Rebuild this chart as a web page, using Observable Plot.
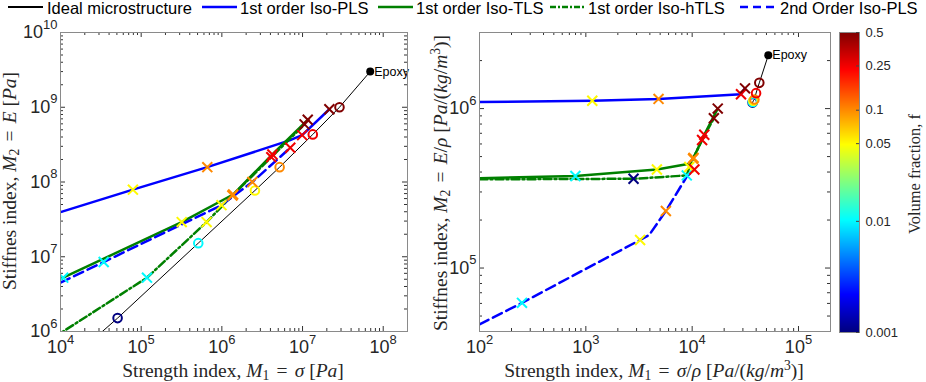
<!DOCTYPE html>
<html>
<head>
<meta charset="utf-8">
<script src="https://cdn.jsdelivr.net/npm/d3@7"></script>
<script src="https://cdn.jsdelivr.net/npm/@observablehq/plot@0.6"></script>
<style>
  html, body { margin: 0; padding: 0; background: #fff; }
  #chart { position: relative; width: 926px; height: 382px; overflow: hidden; background: #fff; }
  .slot { position: absolute; top: 0; }
  .leg-line { position: absolute; top: 0; }
  .leg-text { position: absolute; top: -1px; font-family: "Liberation Sans", Arial, sans-serif; font-size: 16.5px; line-height: 18px; color: #000; white-space: nowrap; }
  .ax-label { position: absolute; font-family: "Liberation Serif", "Times New Roman", serif; font-size: 19.5px; line-height: 20px; color: #262626; white-space: nowrap; transform: translate(-50%, -50%); }
  .ax-label.rot { transform: translate(-50%, -50%) rotate(-90deg); }
  .ax-label sub { font-size: 0.7em; vertical-align: -0.25em; line-height: 0; }
  .ax-label sup { font-size: 0.7em; vertical-align: 0.5em; line-height: 0; }
  .ax-label .eq { margin: 0 0.12em; }
  .cb-title { font-size: 16.5px; }
</style>
</head>
<body>
<div id="chart"></div>
<script>
// ---------------- data ----------------
const SERIES_NAMES = ["Ideal microstructure", "1st order Iso-PLS", "1st order Iso-TLS", "1st order Iso-hTLS", "2nd Order Iso-PLS"];
const VOLUME_FRACTION_TICKS = [0.001, 0.01, 0.05, 0.1, 0.25, 0.5];
const COLORBAR_TITLE = "Volume fraction, f";
const EPOXY_LABEL = "Epoxy";

// Left panel: M1 = sigma [Pa], M2 = E [Pa]   (f = null: line vertex without marker, f = 1: Epoxy)
const L_IDEAL_X = [3.3e4, 5.1e4, 5.1e5, 2.57e6, 5.2e6, 1.34e7, 2.87e7, 6.9e7];
const L_IDEAL_Y = [1.0e6, 1.51e6, 1.52e7, 7.7e7, 1.58e8, 4.33e8, 1.0e9, 3.0e9];
const L_IDEAL_F = [null, 0.001, 0.01, 0.05, 0.1, 0.25, 0.5, 1];
const L_PLS1_X = [1e4, 7.9e4, 6.6e5, 6.9e6, 9.9e6, 2.15e7];
const L_PLS1_Y = [3.96e7, 7.9e7, 1.58e8, 3.6e8, 4.24e8, 9.4e8];
const L_PLS1_F = [null, 0.05, 0.1, null, 0.25, 0.5];
const L_TLS1_X = [1e4, 1.08e4, 3.18e5, 1.38e6, 4.23e6, 1.16e7];
const L_TLS1_Y = [5.05e6, 5.25e6, 2.91e7, 6.8e7, 2.34e8, 6.8e8];
const L_TLS1_F = [null, 0.01, 0.05, 0.1, 0.25, 0.5];
const L_HTLS1_X = [3.73e3, 1.18e5, 6.47e5, 1.35e6, 4.1e6, 1.06e7];
const L_HTLS1_Y = [4.8e5, 5.25e6, 2.91e7, 6.6e7, 2.15e8, 5.9e8];
const L_HTLS1_F = [0.001, 0.01, 0.05, 0.1, 0.25, 0.5];
const L_PLS2_X = [1e4, 3.43e4, 9.9e5, 2.39e6, 7.05e6];
const L_PLS2_Y = [4.5e6, 8.5e6, 4.9e7, 1.0e8, 2.87e8];
const L_PLS2_F = [null, 0.01, 0.05, 0.1, 0.25];

// Right panel: M1 = sigma/rho, M2 = E/rho  [Pa/(kg/m^3)]
const R_IDEAL_X = [3.7e4, 3.72e4, 3.76e4, 3.85e4, 3.99e4, 4.28e4, 5.2e4];
const R_IDEAL_Y = [1.09e6, 1.1e6, 1.12e6, 1.14e6, 1.25e6, 1.45e6, 2.16e6];
const R_IDEAL_F = [0.001, 0.01, 0.05, 0.1, 0.25, 0.5, 1];
const R_PLS1_X = [100, 1.15e3, 4.83e3, 2.88e4, 3.14e4];
const R_PLS1_Y = [1.1e6, 1.12e6, 1.15e6, 1.23e6, 1.34e6];
const R_PLS1_F = [null, 0.05, 0.1, 0.25, 0.5];
const R_TLS1_X = [100, 798, 4.66e3, 9.4e3, 1.03e4, 1.3e4, 1.74e4];
const R_TLS1_Y = [3.66e5, 3.78e5, 4.15e5, 4.51e5, 4.91e5, 6.85e5, 1.0e6];
const R_TLS1_F = [null, 0.01, 0.05, null, 0.1, 0.25, 0.5];
const R_HTLS1_X = [100, 2.81e3, 8.9e3, 9.4e3, 1.02e4, 1.24e4, 1.6e4];
const R_HTLS1_Y = [3.6e5, 3.63e5, 3.81e5, 4.3e5, 4.85e5, 6.35e5, 8.7e5];
const R_HTLS1_F = [null, 0.001, 0.01, 0.05, 0.1, 0.25, 0.5];
const R_PLS2_X = [100, 251, 3.24e3, 3.94e3, 5.66e3, 8.93e3, 1.05e4];
const R_PLS2_Y = [4.43e4, 6.05e4, 1.5e5, 1.61e5, 2.28e5, 3.76e5, 4.15e5];
const R_PLS2_F = [null, 0.01, 0.05, null, 0.1, null, 0.25];

// ---------------- helpers ----------------
const rows = (xs, ys, fs) => xs.map((x, i) => ({x, y: ys[i], f: fs[i]}));
function jet(t) {
  const c = v => Math.max(0, Math.min(1, v));
  const r = c(1.5 - Math.abs(4 * t - 3)), g = c(1.5 - Math.abs(4 * t - 2)), b = c(1.5 - Math.abs(4 * t - 1));
  return `rgb(${Math.round(r * 255)},${Math.round(g * 255)},${Math.round(b * 255)})`;
}
const COLOR = {type: "log", domain: [0.001, 0.5], interpolate: jet};
function decades([lo, hi]) {
  const out = [];
  for (let k = Math.ceil(Math.log10(lo) - 1e-9); k <= Math.floor(Math.log10(hi) + 1e-9); k++) out.push(10 ** k);
  return out;
}
function minors([lo, hi]) {
  const out = [];
  for (let k = Math.floor(Math.log10(lo)); k <= Math.ceil(Math.log10(hi)); k++)
    for (let m = 2; m <= 9; m++) { const v = m * 10 ** k; if (v > lo * 1.0001 && v < hi / 1.0001) out.push(v); }
  return out;
}
function supify(svg) {
  d3.select(svg).selectAll("text").each(function () {
    const m = /^10\^(-?\d+)$/.exec(this.textContent);
    if (!m) return;
    this.textContent = "";
    const ns = "http://www.w3.org/2000/svg";
    const a = document.createElementNS(ns, "tspan"); a.textContent = "10";
    const b = document.createElementNS(ns, "tspan"); b.textContent = m[1];
    b.setAttribute("dy", "-0.75em"); b.setAttribute("font-size", "0.72em");
    this.appendChild(a); this.appendChild(b);
  });
}

const BLUE = "#0000ff", GREEN = "#008000", BLACK = "#000000";

function panel(o) {
  const iw = o.width - o.ml - o.mr, ih = o.height - o.mt - o.mb;
  const TICK = "#333", MAJ = 5, MIN = 3;
  const xMaj = decades(o.xDomain), yMaj = decades(o.yDomain);
  const xMin = minors(o.xDomain), yMin = minors(o.yDomain);
  const S = o.series;
  const lineDefs = [
    {d: S.ideal, stroke: BLACK, w: 1, dash: null},
    {d: S.pls1, stroke: BLUE, w: 2.5, dash: null},
    {d: S.tls1, stroke: GREEN, w: 2.5, dash: null},
    {d: S.htls1, stroke: GREEN, w: 2.5, dash: "8,3,2,3"},
    {d: S.pls2, stroke: BLUE, w: 2.5, dash: "10,5"}
  ];
  const marks = [
    Plot.tickX(xMaj, {x: d => d, insetTop: ih - MAJ, stroke: TICK}),
    Plot.tickX(xMaj, {x: d => d, insetBottom: ih - MAJ, stroke: TICK}),
    Plot.tickX(xMin, {x: d => d, insetTop: ih - MIN, stroke: TICK}),
    Plot.tickX(xMin, {x: d => d, insetBottom: ih - MIN, stroke: TICK}),
    Plot.tickY(yMaj, {y: d => d, insetRight: iw - MAJ, stroke: TICK}),
    Plot.tickY(yMaj, {y: d => d, insetLeft: iw - MAJ, stroke: TICK}),
    Plot.tickY(yMin, {y: d => d, insetRight: iw - MIN, stroke: TICK}),
    Plot.tickY(yMin, {y: d => d, insetLeft: iw - MIN, stroke: TICK}),
    ...lineDefs.map(l => Plot.line(l.d, {x: "x", y: "y", stroke: l.stroke, strokeWidth: l.w, strokeDasharray: l.dash, clip: true})),
    Plot.dot(S.ideal.filter(d => d.f != null && d.f < 1), {x: "x", y: "y", stroke: "f", symbol: "circle", fill: "none", r: 4.3, strokeWidth: 2, clip: true}),
    ...[S.pls1, S.tls1, S.htls1, S.pls2].map(d =>
      Plot.dot(d.filter(r => r.f != null), {x: "x", y: "y", stroke: "f", symbol: "times", r: 4.6, strokeWidth: 2, clip: true})),
    Plot.dot(S.ideal.filter(d => d.f === 1), {x: "x", y: "y", fill: BLACK, r: 4}),
    Plot.text(S.ideal.filter(d => d.f === 1), {x: "x", y: "y", text: () => EPOXY_LABEL, dx: 4, textAnchor: "start", fontSize: 12.5, fill: BLACK}),
    Plot.frame({stroke: "#8a8a8a"}),
    Plot.axisX({ticks: xMaj, tickFormat: d => `10^${Math.round(Math.log10(d))}`, tickSize: 0, tickPadding: 9, label: null, fontSize: 18, fill: "#262626"}),
    Plot.axisY({ticks: yMaj, tickFormat: d => `10^${Math.round(Math.log10(d))}`, tickSize: 0, tickPadding: 3, label: null, fontSize: 18, fill: "#262626"})
  ];
  const svg = Plot.plot({
    width: o.width, height: o.height,
    marginTop: o.mt, marginBottom: o.mb, marginLeft: o.ml, marginRight: o.mr,
    x: {type: "log", domain: o.xDomain, label: null},
    y: {type: "log", domain: o.yDomain, label: null},
    color: COLOR,
    style: {background: "transparent", overflow: "visible", fontFamily: "'Liberation Sans', Arial, sans-serif", color: "#262626"},
    marks
  });
  supify(svg);
  return svg;
}

const chart = document.getElementById("chart");
function place(el, left, width) {
  const d = document.createElement("div");
  d.className = "slot"; d.style.left = left + "px"; d.style.width = width + "px";
  d.appendChild(el); chart.appendChild(d);
}

place(panel({
  width: 430, height: 382, ml: 60, mr: 23, mt: 32, mb: 51,
  xDomain: [1e4, 2e8], yDomain: [1e6, 1e10],
  series: {
    ideal: rows(L_IDEAL_X, L_IDEAL_Y, L_IDEAL_F),
    pls1: rows(L_PLS1_X, L_PLS1_Y, L_PLS1_F),
    tls1: rows(L_TLS1_X, L_TLS1_Y, L_TLS1_F),
    htls1: rows(L_HTLS1_X, L_HTLS1_Y, L_HTLS1_F),
    pls2: rows(L_PLS2_X, L_PLS2_Y, L_PLS2_F)
  }
}), 0, 430);

place(panel({
  width: 405, height: 382, ml: 49, mr: 5, mt: 32, mb: 51,
  xDomain: [100, 2e5], yDomain: [4e4, 3e6],
  series: {
    ideal: rows(R_IDEAL_X, R_IDEAL_Y, R_IDEAL_F),
    pls1: rows(R_PLS1_X, R_PLS1_Y, R_PLS1_F),
    tls1: rows(R_TLS1_X, R_TLS1_Y, R_TLS1_F),
    htls1: rows(R_HTLS1_X, R_HTLS1_Y, R_HTLS1_F),
    pls2: rows(R_PLS2_X, R_PLS2_Y, R_PLS2_F)
  }
}), 430, 405);

// colorbar
const lo = Math.log10(0.001), hi = Math.log10(0.5), N = 300;
const stops = d3.range(N).map(i => ({a: 10 ** (lo + (hi - lo) * i / N), b: 10 ** (lo + (hi - lo) * (i + 1) / N)}));
const cb = Plot.plot({
  width: 91, height: 382, marginTop: 32, marginBottom: 50, marginLeft: 4, marginRight: 67,
  x: {domain: [0, 1], axis: null},
  y: {type: "log", domain: [0.001, 0.5], axis: null},
  color: COLOR,
  style: {background: "transparent", overflow: "visible", fontFamily: "'Liberation Sans', Arial, sans-serif", color: "#262626"},
  marks: [
    Plot.rect(stops, {x1: () => 0, x2: () => 1, y1: "a", y2: "b", fill: d => Math.sqrt(d.a * d.b), shapeRendering: "crispEdges"}),
    Plot.frame({stroke: "#8a8a8a"}),
    Plot.tickY(VOLUME_FRACTION_TICKS, {y: d => d, insetLeft: 17, stroke: "#444"}),
    Plot.text(VOLUME_FRACTION_TICKS, {y: d => d, text: d => String(d), frameAnchor: "right", dx: 6, textAnchor: "start", fontSize: 13, fill: "#262626"})
  ]
});
place(cb, 835, 91);

// legend
const legendItems = [
  {x1: 8, x2: 43, tx: 47, stroke: BLACK, w: 2, dash: null},
  {x1: 202, x2: 237, tx: 240, stroke: BLUE, w: 2.5, dash: null},
  {x1: 378, x2: 413, tx: 416, stroke: GREEN, w: 2.5, dash: null},
  {x1: 550, x2: 585, tx: 588, stroke: GREEN, w: 2.5, dash: "6,2,2,2"},
  {x1: 740, x2: 776, tx: 780, stroke: BLUE, w: 2.5, dash: "8,5"}
];
legendItems.forEach((it, i) => {
  const s = d3.create("svg").attr("class", "leg-line").attr("width", it.x2 - it.x1).attr("height", 14)
    .style("left", it.x1 + "px");
  s.append("line").attr("x1", 0).attr("x2", it.x2 - it.x1).attr("y1", 7).attr("y2", 7)
    .attr("stroke", it.stroke).attr("stroke-width", it.w).attr("stroke-dasharray", it.dash);
  chart.appendChild(s.node());
  const t = document.createElement("div");
  t.className = "leg-text"; t.style.left = it.tx + "px"; t.textContent = SERIES_NAMES[i];
  chart.appendChild(t);
});

// axis titles
function label(html, cx, cy, rot, extra) {
  const d = document.createElement("div");
  d.className = "ax-label" + (rot ? " rot" : "") + (extra ? " " + extra : "");
  d.style.left = cx + "px"; d.style.top = cy + "px";
  d.innerHTML = html; chart.appendChild(d);
}
const EQ = '<span class="eq">=</span>';
label(`Strength index, <i>M</i><sub>1</sub> ${EQ} <i>σ</i> [<i>Pa</i>]`, 233, 371, false);
label(`Stiffnes index, <i>M</i><sub>2</sub> ${EQ} <i>E</i> [<i>Pa</i>]`, 10, 181, true);
label(`Strength index, <i>M</i><sub>1</sub> ${EQ} <i>σ</i>/<i>ρ</i> [<i>Pa</i>/(<i>kg</i>/<i>m</i><sup>3</sup>)]`, 654, 371, false);
label(`Stiffnes index, <i>M</i><sub>2</sub> ${EQ} <i>E</i>/<i>ρ</i> [<i>Pa</i>/(<i>kg</i>/<i>m</i><sup>3</sup>)]`, 441, 183, true);
label(COLORBAR_TITLE, 915, 174, true, "cb-title");
</script>
</body>
</html>
